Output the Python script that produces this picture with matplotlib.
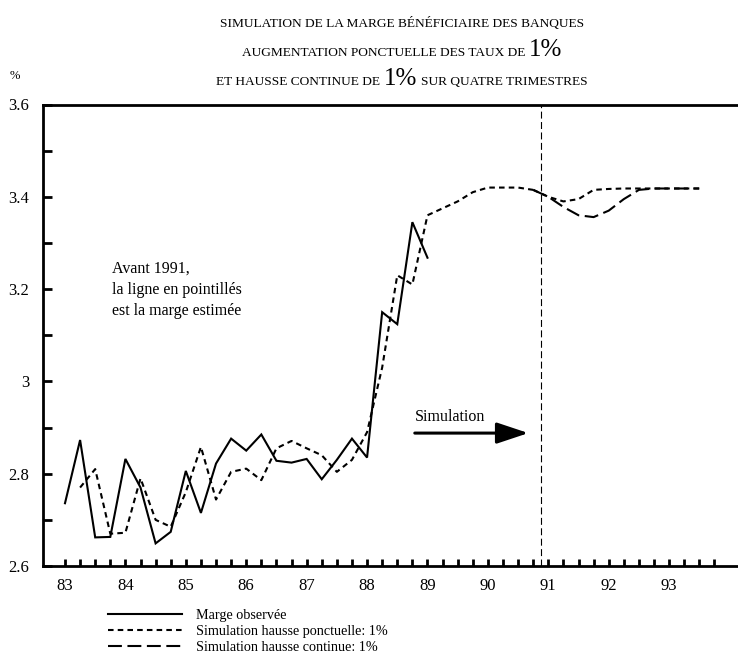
import numpy as np
import matplotlib.pyplot as plt

plt.rcParams['font.family'] = ['Liberation Serif', 'DejaVu Serif']
plt.rcParams['lines.scale_dashes'] = False

# donnees trimestrielles (83.0 = 1983 T1, pas de 0.25)
debut_observee = 83.0
marge_observee = [2.736, 2.873, 2.662, 2.663, 2.832, 2.77, 2.649, 2.674,
                  2.806, 2.715, 2.822, 2.876, 2.850, 2.885, 2.828, 2.824,
                  2.832, 2.788, 2.830, 2.876, 2.835, 3.150, 3.124, 3.345,
                  3.268]

debut_estimee = 83.25
marge_estimee = [2.77, 2.81, 2.67, 2.672, 2.79, 2.70, 2.685, 2.76,
                 2.858, 2.744, 2.804, 2.811, 2.786, 2.855, 2.871, 2.855,
                 2.840, 2.804, 2.830, 2.890, 3.030, 3.230, 3.210, 3.360,
                 3.375, 3.390, 3.410, 3.420, 3.420, 3.420, 3.415]

debut_simulation = 90.75
sim_ponctuelle = [3.415, 3.400, 3.390, 3.395, 3.415, 3.417, 3.418, 3.418,
                  3.418, 3.418, 3.418, 3.418]
sim_continue = [3.415, 3.400, 3.378, 3.360, 3.356, 3.370, 3.395, 3.415,
                3.418, 3.418, 3.418, 3.418]

annees = list(range(83, 94))
etiquettes_x = [str(a) for a in annees]
graduations_y = [2.6, 2.8, 3.0, 3.2, 3.4, 3.6]
etiquettes_y = ['2.6', '2.8', '3', '3.2', '3.4', '3.6']
date_simulation = 90.88

legende = ['Marge observée',
           'Simulation hausse ponctuelle: 1%',
           'Simulation hausse continue: 1%']


def trimestres(debut, valeurs):
    return debut + 0.25 * np.arange(len(valeurs))


W, H = 738, 661
fig = plt.figure(figsize=(W / 100, H / 100), dpi=100)
ax = fig.add_axes([43 / W, 1 - 566 / H, 1 - 43 / W, (566 - 104.5) / H])

court = (4, 3)
long_ = (10, 4)

l_obs, = ax.plot(trimestres(debut_observee, marge_observee), marge_observee,
                 color='black', lw=1.5, solid_joinstyle='miter')
ax.plot(trimestres(debut_estimee, marge_estimee), marge_estimee,
        color='black', lw=1.5, dashes=court)
l_ponc, = ax.plot(trimestres(debut_simulation, sim_ponctuelle), sim_ponctuelle,
                  color='black', lw=1.5, dashes=court)
l_cont, = ax.plot(trimestres(debut_simulation, sim_continue), sim_continue,
                  color='black', lw=1.5, dashes=long_)

ax.axvline(date_simulation, color='black', lw=0.8, dashes=(5, 2.5))

ax.annotate('', xy=(90.67, 2.888), xytext=(88.79, 2.888),
            arrowprops=dict(arrowstyle='-|>,head_length=0.75,head_width=0.25',
                            lw=2.2, color='black', mutation_scale=26,
                            shrinkA=0, shrinkB=0))
ax.text(88.79, 2.905, 'Simulation', fontsize=11.5, ha='left', va='bottom')

ax.text(83.78, 3.262, 'Avant 1991,\nla ligne en pointillés\nest la marge estimée',
        fontsize=11.5, ha='left', va='top', linespacing=1.42)

ax.set_xlim(82.636, 94.14)
ax.set_ylim(2.6, 3.6)

ax.set_xticks(annees)
ax.set_xticklabels(etiquettes_x)
ax.set_xticks(np.arange(83, 93.8, 0.25), minor=True)
ax.set_yticks(graduations_y)
ax.set_yticklabels(etiquettes_y)
ax.set_yticks(np.arange(2.7, 3.6, 0.2), minor=True)

ax.tick_params(axis='x', which='both', direction='in', length=5, width=2,
               pad=9, labelsize=12)
ax.tick_params(axis='y', which='both', direction='in', length=6.5, width=2,
               pad=10, labelsize=12)

for cote in ['left', 'top', 'bottom']:
    ax.spines[cote].set_linewidth(2)
ax.spines['right'].set_visible(False)

fig.text(15 / W, 1 - 76 / H, '%', fontsize=9, ha='center', va='center')

ax.legend([l_obs, l_ponc, l_cont], legende, loc='upper left',
          bbox_to_anchor=(108 / W, 1 - 609 / H), bbox_transform=fig.transFigure,
          frameon=False, fontsize=10.2, handlelength=5.2, handletextpad=1.0,
          labelspacing=0.22, borderpad=0, borderaxespad=0)

# titre, avec le "1%" en plus grand
renderer = fig.canvas.get_renderer()


def ligne_titre(y_base, morceaux):
    textes = []
    largeurs = []
    for s, taille in morceaux:
        t = fig.text(0, 1 - y_base / H, s, fontsize=taille, va='baseline')
        textes.append(t)
        largeurs.append(t.get_window_extent(renderer).width)
    espace = 4
    total = sum(largeurs) + espace * (len(morceaux) - 1)
    x = 402 - total / 2
    for t, w in zip(textes, largeurs):
        t.set_x(x / W)
        x += w + espace


ligne_titre(27, [('SIMULATION DE LA MARGE BÉNÉFICIAIRE DES BANQUES', 9.6)])
ligne_titre(56, [('AUGMENTATION PONCTUELLE DES TAUX DE', 9.6), ('1%', 18)])
ligne_titre(85, [('ET HAUSSE CONTINUE DE', 9.6), ('1%', 18),
                 ('SUR QUATRE TRIMESTRES', 9.6)])

fig.savefig('out.png', dpi=100)
